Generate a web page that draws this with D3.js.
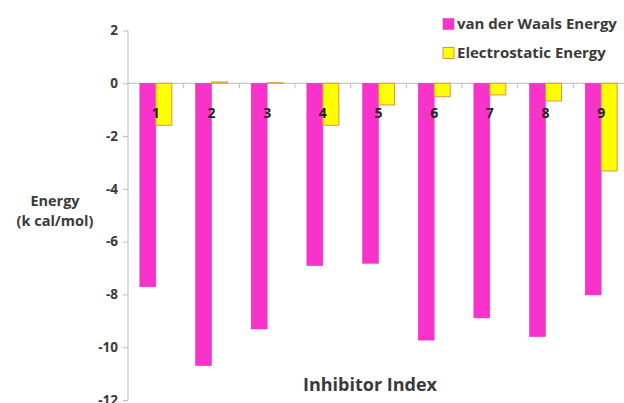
<!DOCTYPE html>
<html><head><meta charset="utf-8">
<script src="https://cdn.jsdelivr.net/npm/d3@7"></script>
<style>body{margin:0;background:#fff}svg{display:block}text{font-family:"Open Sans",Lato,sans-serif;font-weight:bold;fill:#3a3a3a}</style>
</head><body><svg id="c" width="624" height="403"></svg>
<script>
const categories = ["1","2","3","4","5","6","7","8","9"];
const vdwEnergy = [-7.71,-10.70,-9.31,-6.91,-6.82,-9.73,-8.89,-9.60,-8.02];
const elecEnergy = [-1.59,0.05,0.02,-1.59,-0.82,-0.51,-0.44,-0.67,-3.32];
const yTicks = [2,0,-2,-4,-6,-8,-10,-12];
const seriesNames = ["van der Waals Energy","Electrostatic Energy"];
const colors = ["#f733cc","#ffff00"];
const strokes = ["#e22fbf","#e0904a"];

const svg = d3.select("#c");
const x0 = 128, x1 = 629;
const x = d3.scaleBand().domain(categories).range([x0, x1]).paddingInner(0.43).paddingOuter(0.215);
const y = d3.scaleLinear().domain([-12, 2]).range([400, 30.5]);
const bw = 16;

// y axis
const ya = svg.append("g").attr("transform",`translate(${x0},0)`)
  .call(d3.axisLeft(y).tickValues(yTicks).tickSize(5).tickPadding(5).tickFormat(d3.format("d")));
ya.select(".domain").attr("stroke","#bbb").attr("d",`M0,${y(2)}V${y(-12)}`);
ya.selectAll(".tick line").attr("stroke","#bbb");
ya.selectAll(".tick text").style("font-size","13.5px").attr("fill","#3a3a3a").text(d=>d<0?"-"+Math.abs(d):d);

// zero line with category ticks
const step = x.step();
svg.append("line").attr("x1",x0).attr("x2",624).attr("y1",y(0)).attr("y2",y(0)).attr("stroke","#bbb");
svg.selectAll(".ct").data(categories).enter().append("line")
  .attr("x1",d=>x(d)+x.bandwidth()/2+step/2).attr("x2",d=>x(d)+x.bandwidth()/2+step/2)
  .attr("y1",y(0)).attr("y2",y(0)+5).attr("stroke","#bbb");

const g = svg.append("g");
const series = [vdwEnergy, elecEnergy];
series.forEach((vals,si)=>{
  g.selectAll(".b"+si).data(categories).enter().append("rect")
    .attr("x",(d)=>x(d)+x.bandwidth()/2 - bw + si*bw)
    .attr("width",bw)
    .attr("y",(d,i)=>y(Math.max(0,vals[i])))
    .attr("height",(d,i)=>Math.abs(y(vals[i])-y(0)))
    .attr("fill",colors[si]).attr("stroke",strokes[si]).attr("stroke-width",si?1:0.5);
});

// category labels
svg.selectAll(".cl").data(categories).enter().append("text")
  .attr("x",d=>x(d)+x.bandwidth()/2).attr("y",118).attr("text-anchor","middle")
  .style("font-size","14px").style("fill","#222").text(d=>d);

// y title
svg.append("text").attr("x",55).attr("y",206).attr("text-anchor","middle").style("font-size","14.5px").text("Energy");
svg.append("text").attr("x",55).attr("y",226).attr("text-anchor","middle").style("font-size","14.5px").text("(k cal/mol)");
// x title
svg.append("text").attr("x",370).attr("y",391).attr("text-anchor","middle").style("font-size","18px").text("Inhibitor Index");

// legend
const lg = svg.append("g");
seriesNames.forEach((n,i)=>{
  const cy = 24 + i*29;
  lg.append("rect").attr("x",443).attr("y",cy-5.5).attr("width",11).attr("height",11)
    .attr("fill",colors[i]).attr("stroke",strokes[i]).attr("stroke-width",i?1:0.5);
  lg.append("text").attr("x",457).attr("y",cy+5).style("font-size","15px").text(n);
});
</script></body></html>
